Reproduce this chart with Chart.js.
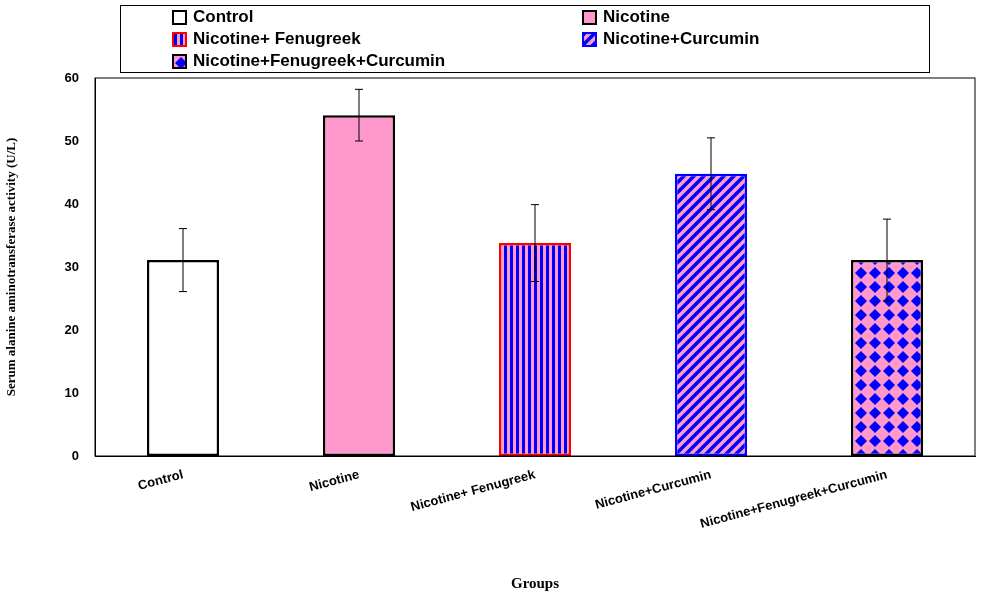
<!DOCTYPE html>
<html>
<head>
<meta charset="utf-8">
<script src="https://cdn.jsdelivr.net/npm/chart.js@4.4.0/dist/chart.umd.min.js"></script>
<style>
  body { margin: 0; background: #fff; }
  #wrap { position: relative; width: 992px; height: 597px; }
  #legend { position: absolute; left: 120px; top: 5px; width: 808px; height: 66px; border: 1px solid #000;
    font: bold 17px "Liberation Sans", Arial, sans-serif; }
  .item { position: absolute; display: flex; align-items: center; }
  .item canvas { border: 2px solid #000; margin-right: 6px; }
</style>
</head>
<body>
<div id="wrap">
  <canvas id="myChart" width="992" height="597"></canvas>
  <div id="legend"></div>
</div>
<script>
const groups = ['Control', 'Nicotine', 'Nicotine+ Fenugreek', 'Nicotine+Curcumin', 'Nicotine+Fenugreek+Curcumin']
const means = [31.1, 54.1, 33.8, 44.8, 31.1]
const errors = [5.0, 4.1, 6.1, 5.7, 6.5]
const borders = ['#000', '#000', '#ff0000', '#0000ff', '#000']

function makePattern(kind) {
  const c = document.createElement('canvas')
  const g = c.getContext('2d')
  if (kind === 0) { c.width = c.height = 4; g.fillStyle = '#fff'; g.fillRect(0, 0, 4, 4) }
  if (kind === 1) { c.width = c.height = 4; g.fillStyle = '#ff99cc'; g.fillRect(0, 0, 4, 4) }
  if (kind === 2) {
    c.width = 6; c.height = 6
    g.fillStyle = '#ff99cc'; g.fillRect(0, 0, 6, 6)
    g.fillStyle = '#0000ff'; g.fillRect(0, 0, 3, 6)
  }
  if (kind === 3) {
    c.width = c.height = 10
    g.fillStyle = '#ff99cc'; g.fillRect(0, 0, 10, 10)
    g.strokeStyle = '#0000ff'; g.lineWidth = 3.5
    g.beginPath(); g.moveTo(-2, 12); g.lineTo(12, -2); g.moveTo(-7, 7); g.lineTo(7, -7); g.moveTo(3, 17); g.lineTo(17, 3); g.stroke()
  }
  if (kind === 4) {
    c.width = c.height = 14
    g.fillStyle = '#ff99cc'; g.fillRect(0, 0, 14, 14)
    g.fillStyle = '#0000ff'
    g.beginPath(); g.moveTo(7, 1); g.lineTo(13, 7); g.lineTo(7, 13); g.lineTo(1, 7); g.closePath(); g.fill()
  }
  return g.createPattern(c, 'repeat')
}
const fills = groups.map((_, i) => makePattern(i))

// legend box
const legendPos = [[51, 1], [461, 1], [51, 23], [461, 23], [51, 45]]
const legendNames = ['Control', 'Nicotine', 'Nicotine+ Fenugreek', 'Nicotine+Curcumin', 'Nicotine+Fenugreek+Curcumin']
const legendEl = document.getElementById('legend')
legendNames.forEach((name, i) => {
  const d = document.createElement('div')
  d.className = 'item'
  d.style.left = legendPos[i][0] + 'px'
  d.style.top = legendPos[i][1] + 'px'
  const sw = document.createElement('canvas')
  sw.width = 11; sw.height = 11
  sw.style.borderColor = borders[i]
  const sg = sw.getContext('2d')
  sg.fillStyle = fills[i]; sg.fillRect(0, 0, 11, 11)
  d.appendChild(sw)
  d.appendChild(document.createTextNode(name))
  legendEl.appendChild(d)
})

const errorBars = {
  id: 'errorBars',
  afterDatasetsDraw(chart) {
    const ctx = chart.ctx
    const y = chart.scales.y
    const meta = chart.getDatasetMeta(0)
    ctx.save()
    ctx.strokeStyle = '#000'
    ctx.lineWidth = 1
    meta.data.forEach((bar, i) => {
      const top = y.getPixelForValue(means[i] + errors[i])
      const bot = y.getPixelForValue(means[i] - errors[i])
      ctx.beginPath()
      ctx.moveTo(bar.x, top); ctx.lineTo(bar.x, bot)
      ctx.moveTo(bar.x - 4, top); ctx.lineTo(bar.x + 4, top)
      ctx.moveTo(bar.x - 4, bot); ctx.lineTo(bar.x + 4, bot)
      ctx.stroke()
    })
    ctx.restore()
  }
}

const ctx = document.getElementById('myChart').getContext('2d')
const myChart = new Chart(ctx, {
  type: 'bar',
  data: {
    labels: groups,
    datasets: [{
      data: means,
      backgroundColor: fills,
      borderColor: borders,
      borderWidth: 2.5,
      borderSkipped: false,
      categoryPercentage: 0.82,
      barPercentage: 0.5
    }]
  },
  options: {
    responsive: false,
    animation: false,
    layout: { padding: { top: 78, right: 17, left: 0 } },
    plugins: { legend: { display: false }, tooltip: { enabled: false } },
    scales: {
      x: {
        grid: { display: false },
        border: { color: '#000' },
        afterFit(scale) { scale.height = 141 },
        ticks: { color: '#000', maxRotation: 15, minRotation: 15, font: { family: 'Liberation Sans', weight: 'bold', size: 13 } },
        title: { display: true, text: 'Groups', color: '#000', padding: { top: 30 }, font: { family: 'Liberation Serif', weight: 'bold', size: 15 } }
      },
      y: {
        min: 0, max: 60,
        afterFit(scale) { scale.width = 95 },
        ticks: { stepSize: 10, color: '#000', padding: 8, font: { family: 'Liberation Sans', weight: 'bold', size: 13 } },
        grid: { display: false, drawTicks: true },
        border: { color: '#000' },
        title: { display: true, text: 'Serum alanine aminotransferase activity (U/L)', color: '#000', font: { family: 'Liberation Serif', weight: 'bold', size: 13 } }
      }
    }
  },
  plugins: [errorBars,
    { id: 'frame', afterDraw(chart) {
      const a = chart.chartArea, c = chart.ctx
      c.save(); c.strokeStyle = '#000'; c.lineWidth = 1
      c.strokeRect(a.left, a.top, a.right - a.left, a.bottom - a.top); c.restore()
    } }]
})
</script>
</body>
</html>
